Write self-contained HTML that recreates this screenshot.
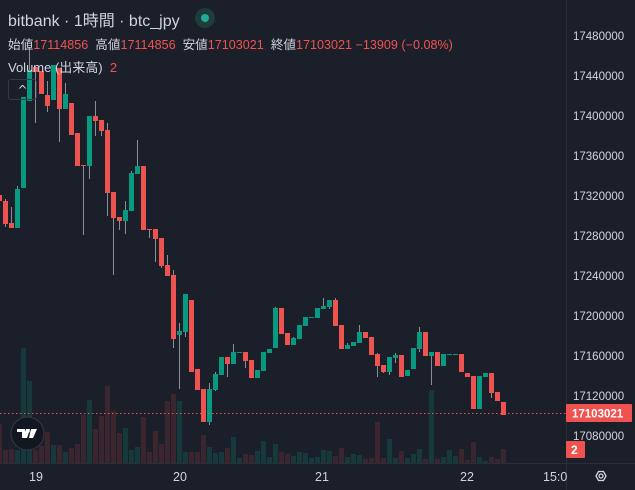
<!DOCTYPE html>
<html><head><meta charset="utf-8"><style>
html,body{margin:0;padding:0;background:#1b1f2a;width:635px;height:490px;overflow:hidden;font-family:"Liberation Sans","Noto Sans CJK JP",sans-serif}
svg{position:absolute;left:0;top:0}
.t{position:absolute;white-space:nowrap;color:#d1d4dc}
</style></head><body>
<svg id="s" width="635" height="490" xmlns="http://www.w3.org/2000/svg"></svg>
<div class="t" style="left:8px;top:7px;font-size:16px">bitbank · 1時間 · btc_jpy</div>
<div style="position:absolute;left:195px;top:8px;width:20px;height:20px;border-radius:50%;background:#1f3b3a"></div>
<div style="position:absolute;left:201px;top:14px;width:8px;height:8px;border-radius:50%;background:#22ab94"></div>
<div class="t" style="left:8px;top:34px;font-size:12.6px">始値<span style="color:#f0534f">17114856</span>&nbsp; 高値<span style="color:#f0534f">17114856</span>&nbsp; 安値<span style="color:#f0534f">17103021</span>&nbsp; 終値<span style="color:#f0534f">17103021 −13909 (−0.08%)</span></div>
<div class="t" style="left:8px;top:57px;font-size:13px">Volume (出来高)&nbsp; <span style="color:#f0534f">2</span></div>
<div style="position:absolute;left:8px;top:79px;width:27px;height:19px;border:1px solid #363a45;border-radius:3px;color:#d1d4dc;font-size:12px;text-align:center;line-height:20px;font-family:'DejaVu Sans',sans-serif">^</div>
<script>
const C=[
['r',195,201],['r',201,224,199,227],['r',223,228,207,228],['g',189,228,186,228],['g',97,188],['g',70,101,47,101],
['r',67,72,67,123],['r',71,94],['r',95,106,81,112],['g',65,100],['r',68,109,68,142],['g',94,109,83,109],
['r',103,135],['r',133,166],['r',165,166,165,235],['g',116,166,116,179],['r',116,121,101,136],['r',120,131,120,136],
['r',130,193,123,216],['r',192,218,192,275],['r',217,221,217,230],['g',210,221,201,234],['g',173,211,171,211],['g',166,174,140,174],
['r',166,230],['r',229,230,229,238],['r',229,239,229,262],['r',238,266,238,268],['r',265,276,255,276],['r',275,339,270,348],
['g',331,335,323,389],['g',294,332,294,337],['r',300,372],['r',369,390],['r',389,422],['g',389,422,383,425],
['g',374,390,372,391],['g',357,375],['r',357,364,357,377],['g',352,364,344,364],['g',352,353],['r',352,361,352,368],
['r',360,378],['g',370,378],['g',352,371],['g',349,353],['g',308,348,307,348],['r',308,334],
['r',333,345],['g',338,345,337,345],['g',325,339],['g',317,326],['g',317,318],['g',308,318],
['g',306,309,298,309],['g',300,307,300,309],['r',300,326,298,326],['r',325,349],['g',345,349,343,349],['g',342,346],
['g',332,343,325,343],['r',332,338],['r',337,355],['r',354,366,353,377],['r',365,372,365,373],['g',357,372,357,375],
['g',355,358,353,363],['r',355,377],['g',370,376],['g',348,369],['g',332,349,327,352],['r',332,356],
['g',352,356,352,385],['r',352,366],['g',354,366],['g',354,355],['g',354,355],['r',354,372],
['r',373,377],['r',376,409],['g',376,409],['g',373,377],['r',373,393,373,398],['r',392,401],['r',402,415]
];
const V=[[424,'r'],[450,'r'],[449,'r'],[450,'g'],[348,'g'],[381,'g'],[450,'r'],[446,'r'],[432,'r'],[445,'g'],[445,'r'],[452,'g'],[448,'r'],[444,'r'],[415,'r'],[400,'g'],[429,'r'],[416,'r'],[386,'r'],[411,'r'],[433,'r'],[428,'g'],[450,'g'],[447,'g'],[417,'r'],[452,'r'],[431,'r'],[444,'r'],[401,'r'],[394,'r'],[401,'g'],[452,'g'],[452,'r'],[452,'r'],
[435,'r'],[447,'g'],[453,'g'],[452,'g'],[448,'r'],[437,'g'],[458,'g'],[454,'r'],[455,'r'],[451,'g'],[441,'g'],[457,'g'],[444,'g'],[452,'r'],[454,'r'],[456,'g'],[452,'g'],[453,'g'],[458,'g'],[457,'g'],[450,'g'],[451,'g'],[456,'r'],[448,'r'],[457,'g'],[454,'g'],[455,'g'],[459,'r'],[458,'r'],[422,'r'],[458,'r'],[439,'g'],[458,'g'],[451,'r'],[458,'g'],[454,'g'],[449,'g'],[459,'r'],[390,'g'],[459,'r'],[457,'g'],[450,'g'],[456,'g'],[449,'r'],[460,'r'],[442,'r'],[457,'g'],[461,'g'],[457,'r'],[459,'r'],[449,'r']];
let h='';
h+='<line x1="566.5" y1="0" x2="566.5" y2="490" stroke="#2a2e39"/><line x1="0" y1="463.5" x2="635" y2="463.5" stroke="#2a2e39"/>';
const n=C.length;
V.forEach((v,i)=>{const x=501-6*(V.length-1-i);h+=`<rect x="${x}" y="${v[0]}" width="5" height="${463-v[0]}" fill="${v[1]=='r'?'#3b262f':'#163a3b'}"/>`});
C.forEach((c,i)=>{const x=501-6*(n-1-i);const col=c[0]=='r'?'#ef5350':'#089981';const wt=c[3]||c[1],wb=c[4]||c[2];
h+=`<line x1="${x+2.5}" y1="${wt}" x2="${x+2.5}" y2="${wb}" stroke="#8a8d96" stroke-width="1"/>`;
h+=`<rect x="${x}" y="${c[1]}" width="5" height="${Math.max(1,c[2]-c[1])}" fill="${col}"/>`});
h+='<line x1="0" y1="413.5" x2="566" y2="413.5" stroke="#f0534f" stroke-dasharray="1.5,2.5"/>';
const P=['17480000','17440000','17400000','17360000','17320000','17280000','17240000','17200000','17160000','17120000','17080000'];
P.forEach((p,i)=>{h+=`<text x="573" y="${40+40*i}" font-size="11.5" fill="#d1d4dc" font-family="Liberation Sans">${p}</text>`});
h+='<rect x="566" y="404" width="66" height="18" rx="1" fill="#f0534f"/><text x="572" y="417.5" font-size="11.5" font-weight="bold" fill="#fff" font-family="Liberation Sans">17103021</text>';
h+='<rect x="566" y="441" width="19" height="17" rx="1" fill="#f0534f"/><text x="571" y="454" font-size="12" font-weight="bold" fill="#fff" font-family="Liberation Sans">2</text>';
[['19',29],['20',173],['21',315],['22',460],['15:0',543]].forEach(t=>{h+=`<text x="${t[1]}" y="481" font-size="12.5" fill="#d1d4dc" font-family="Liberation Sans">${t[0]}</text>`});
h+='<polygon points="596,476 598.5,471.5 603.5,471.5 606,476 603.5,480.5 598.5,480.5" fill="none" stroke="#d1d4dc" stroke-width="1.3"/><circle cx="601" cy="476" r="2" fill="none" stroke="#d1d4dc" stroke-width="1.3"/>';
h+='<circle cx="27.5" cy="433.5" r="16.5" fill="#131722" stroke="#363a45"/>';
h+='<path d="M17 429h8v9h-3v-6h-5z M26 429h4l-3 9h-4z" fill="#fff"/><circle cx="28" cy="431" r="1.8" fill="#fff"/><path d="M31 429h6l-4 9h-4z" fill="#fff"/>';
document.getElementById('s').innerHTML=h;
</script>
</body></html>
